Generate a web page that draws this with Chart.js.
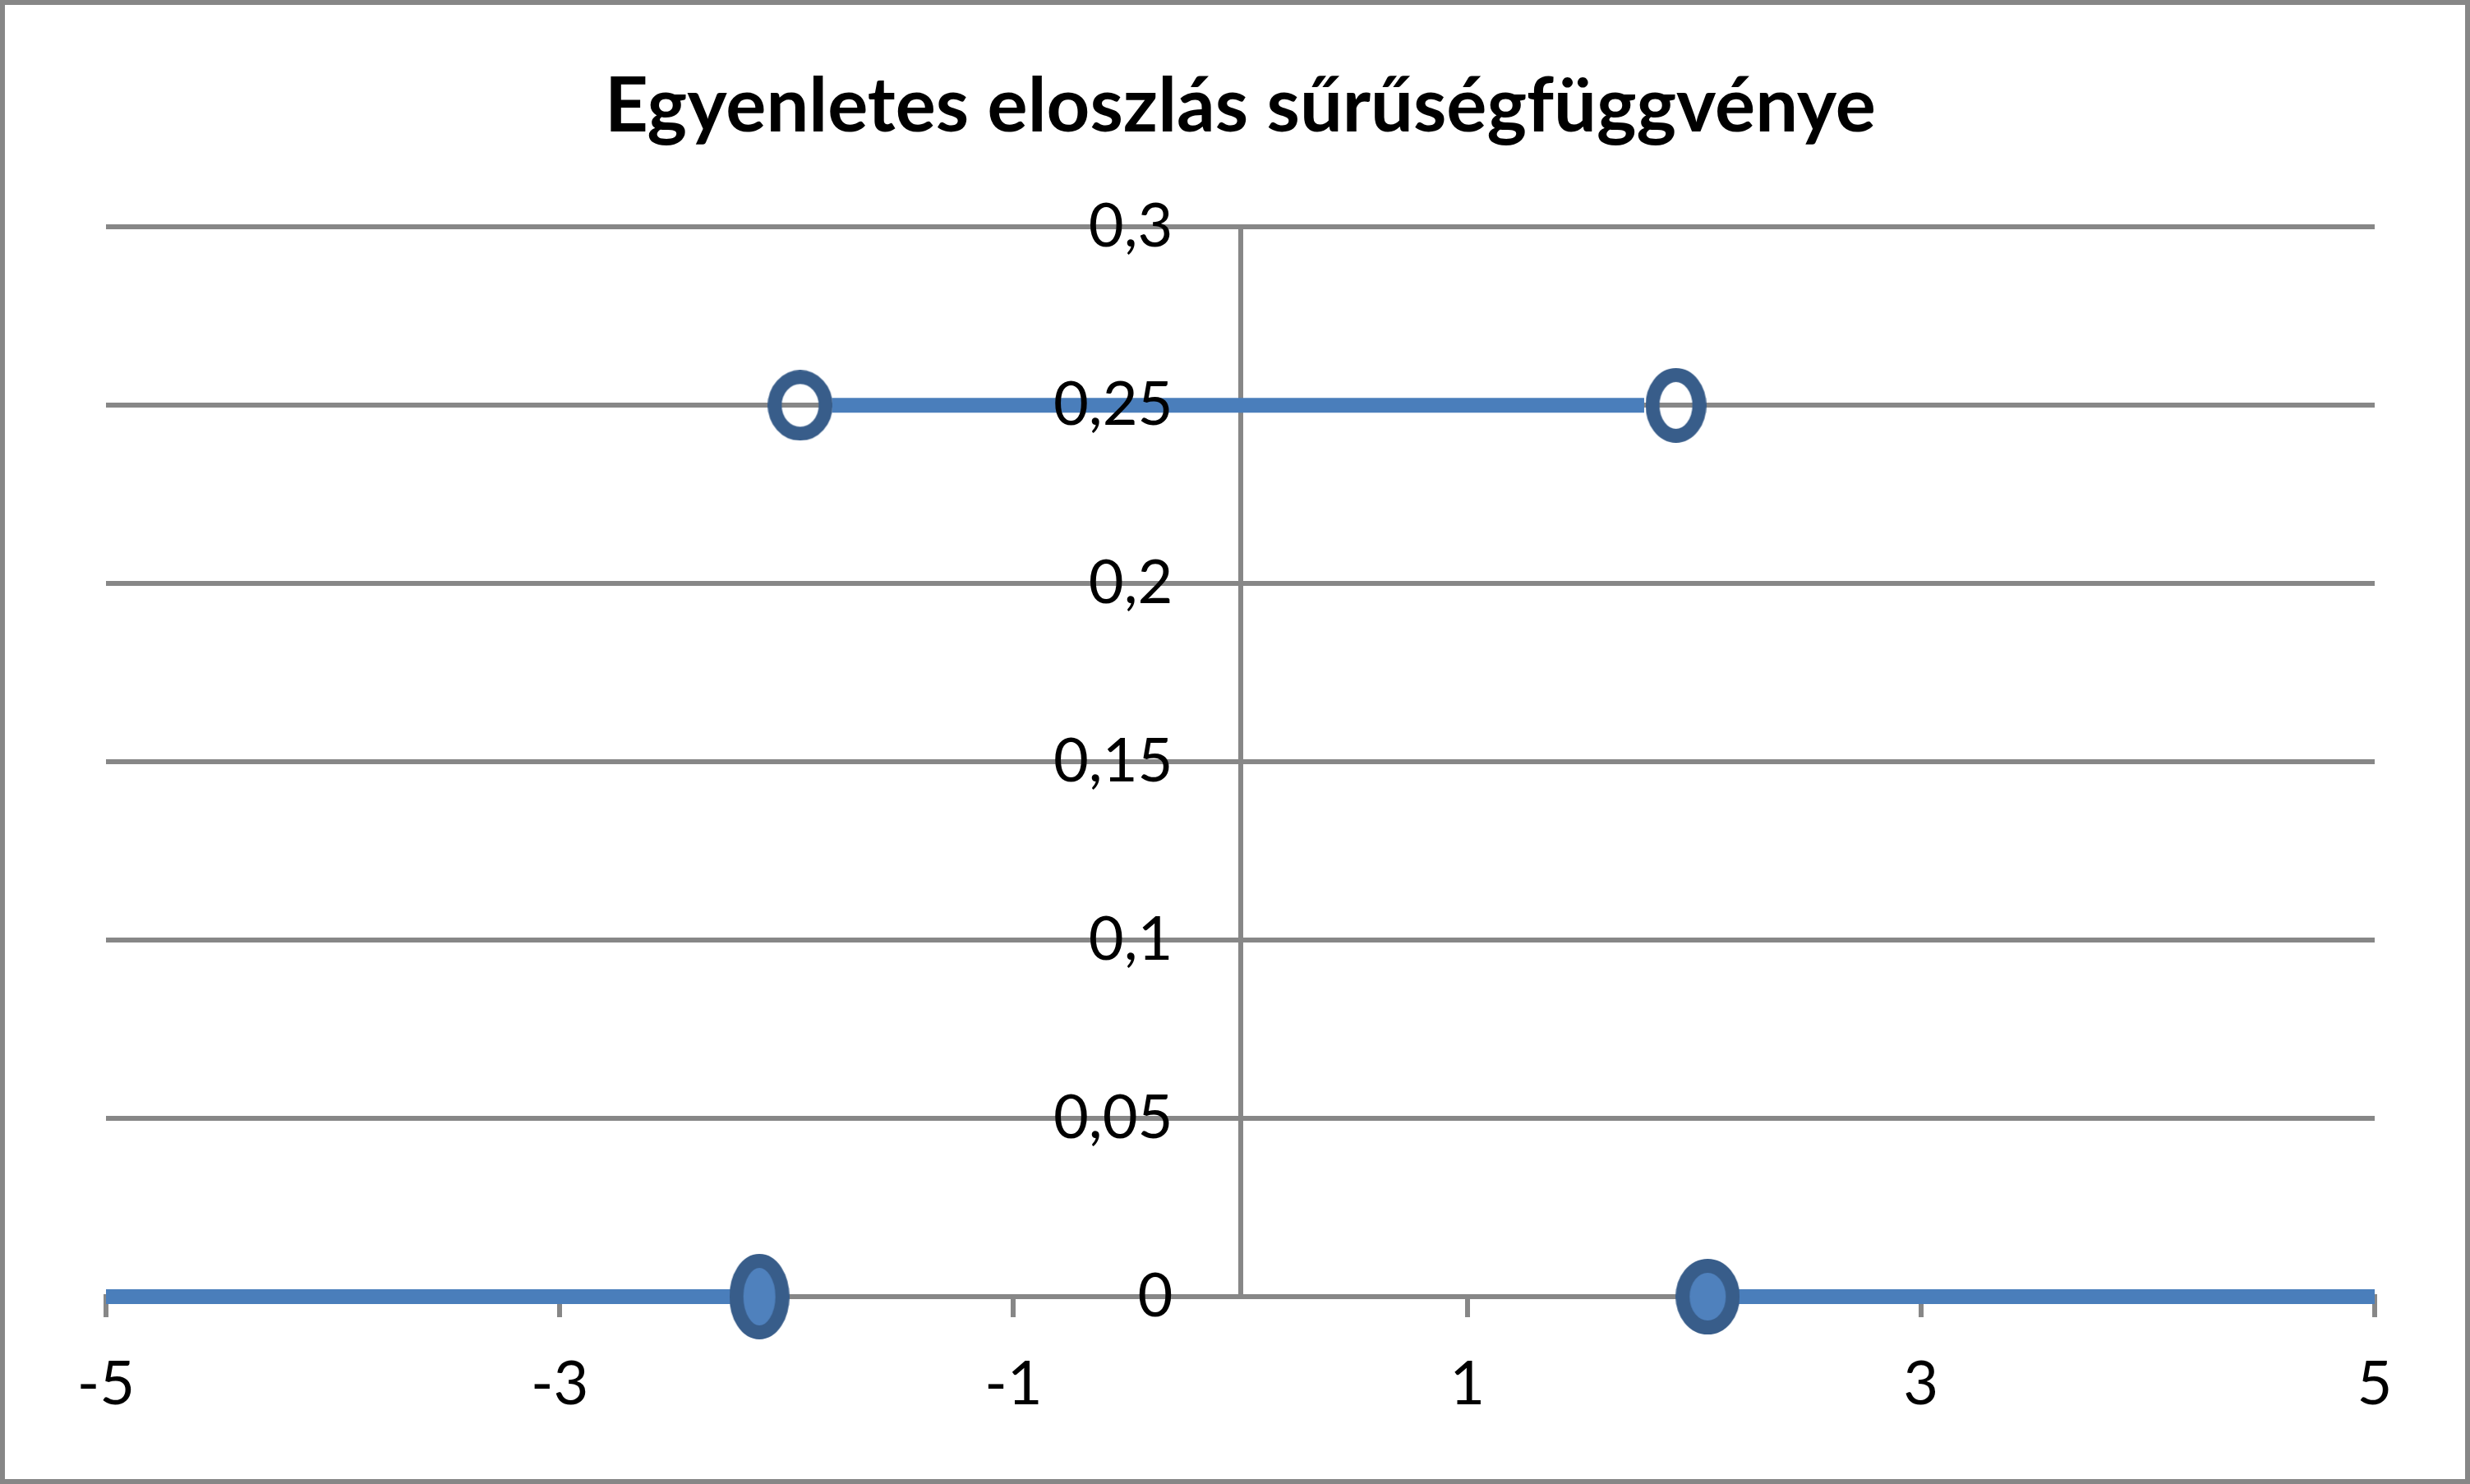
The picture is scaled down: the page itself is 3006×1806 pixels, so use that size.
<!DOCTYPE html>
<html>
<head>
<meta charset="utf-8">
<script src="https://cdn.jsdelivr.net/npm/chart.js@4"></script>
<style>
html,body{margin:0;padding:0;background:#fff;}
#wrap{width:3006px;height:1806px;position:relative;}
canvas{display:block;}
</style>
</head>
<body>
<div id="wrap"><canvas id="c" width="3006" height="1806"></canvas></div>
<script>
// ---- data ----
const titleText = 'Egyenletes eloszlás sűrűségfüggvénye';
const xTicks = [-5, -3, -1, 1, 3, 5];
const xTickLabels = ['-5', '-3', '-1', '1', '3', '5'];
const yTicks = [0, 0.05, 0.1, 0.15, 0.2, 0.25, 0.3];
const yTickLabels = ['0', '0,05', '0,1', '0,15', '0,2', '0,25', '0,3'];

const leftLineX = [-5, -2.12];
const leftLineY = [0, 0];
const midLineX = [-1.80, 1.78];
const midLineY = [0.25, 0.25];
const rightLineX = [2.06, 5];
const rightLineY = [0, 0];
const openX = [-1.94, 1.92];
const openY = [0.25, 0.25];
const closedX = [-2.12, 2.06];
const closedY = [0, 0];

// ---- styling ----
const GRID = '#878787';
const LINE = '#4A7EBB';
const MARK_EDGE = '#385D8A';
const MARK_FILL = '#4F81BD';
const FONT = 'Lato, "Open Sans", "DejaVu Sans", sans-serif';
const Y_LABEL_GAP = 82;

function pts(xs, ys) { return xs.map((x, i) => ({ x: x, y: ys[i] })); }

function ellipse(w, h, stroke, fill) {
  const c = document.createElement('canvas');
  c.width = w; c.height = h;
  const g = c.getContext('2d');
  g.beginPath();
  g.ellipse(w / 2, h / 2, (w - stroke) / 2, (h - stroke) / 2, 0, 0, Math.PI * 2);
  if (fill) { g.fillStyle = fill; g.fill(); }
  g.lineWidth = stroke;
  g.strokeStyle = MARK_EDGE;
  g.stroke();
  return c;
}

const openStyles = [ellipse(79, 86, 17, null), ellipse(74, 91, 17, null)];
const closedStyles = [ellipse(73, 104, 17, MARK_FILL), ellipse(78, 92, 17, MARK_FILL)];

const lineDs = (xs, ys) => ({
  data: pts(xs, ys), showLine: true, borderColor: LINE, borderWidth: 18,
  pointRadius: 0, borderCapStyle: 'butt', clip: false, order: 2
});
const markDs = (xs, ys, styles) => ({
  data: pts(xs, ys), showLine: false, pointStyle: styles, pointRadius: 40,
  pointBorderWidth: 0, pointBackgroundColor: 'rgba(0,0,0,0)', clip: false, order: 1
});

const frame = {
  id: 'frame',
  beforeDraw(chart) {
    const c = chart.ctx; c.save(); c.fillStyle = '#fff';
    c.fillRect(0, 0, chart.width, chart.height); c.restore();
    // move the centred y-axis labels away from the axis line
    const s = chart.scales.y;
    const items = s.getLabelItems(chart.chartArea);
    if (!items._shifted) {
      items.forEach(it => { it.options.translation[0] -= Y_LABEL_GAP; });
      items._shifted = true;
    }
  },
  afterDraw(chart) {
    const c = chart.ctx; c.save(); c.strokeStyle = GRID; c.lineWidth = 6;
    c.strokeRect(3, 3, chart.width - 6, chart.height - 6); c.restore();
  }
};

function build() {
  new Chart(document.getElementById('c'), {
    type: 'scatter',
    data: {
      datasets: [
        lineDs(leftLineX, leftLineY),
        lineDs(midLineX, midLineY),
        lineDs(rightLineX, rightLineY),
        markDs(openX, openY, openStyles),
        markDs(closedX, closedY, closedStyles)
      ]
    },
    options: {
      responsive: false,
      animation: false,
      events: [],
      devicePixelRatio: 1,
      layout: { padding: { left: 129, right: 116, top: 0, bottom: 0 } },
      plugins: {
        legend: { display: false },
        tooltip: { enabled: false },
        title: {
          display: true, text: titleText, color: '#000',
          font: { family: FONT, size: 92, weight: 'bold', lineHeight: 1.2 },
          padding: { top: 75, bottom: 91 }
        }
      },
      scales: {
        x: {
          type: 'linear', min: -5, max: 5, position: 'bottom',
          afterBuildTicks: s => { s.ticks = xTicks.map(v => ({ value: v })); },
          afterFit: s => { s.height = 228; },
          ticks: {
            color: '#000', font: { family: FONT, size: 74 }, padding: 38,
            maxRotation: 0, autoSkip: false,
            callback: (v, i) => xTickLabels[i]
          },
          grid: { drawOnChartArea: false, drawTicks: true, tickLength: 25, tickWidth: 6, tickColor: GRID, color: GRID, lineWidth: 6 },
          border: { display: true, color: GRID, width: 6 }
        },
        y: {
          type: 'linear', min: 0, max: 0.3, position: { x: 0 },
          afterBuildTicks: s => { s.ticks = yTicks.map(v => ({ value: v })); },
          ticks: {
            color: '#000', font: { family: FONT, size: 74 }, padding: 0, z: 1,
            callback: (v, i) => yTickLabels[i]
          },
          grid: { color: GRID, lineWidth: 6, drawTicks: false },
          border: { display: true, color: GRID, width: 6 }
        }
      }
    },
    plugins: [frame]
  });
}

if (document.fonts && document.fonts.load) {
  Promise.all([
    document.fonts.load('bold 92px Lato'),
    document.fonts.load('74px Lato')
  ]).then(build, build);
} else {
  build();
}
</script>
</body>
</html>
